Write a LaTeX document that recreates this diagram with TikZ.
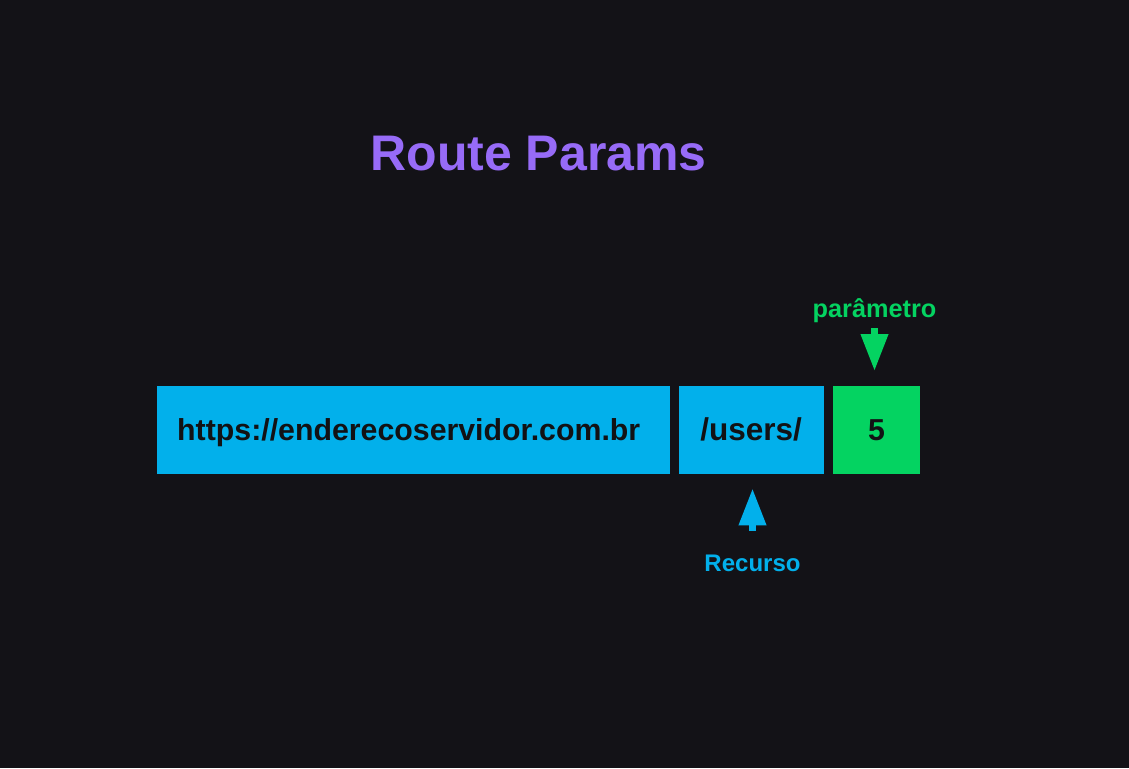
\documentclass[tikz,border=0pt]{standalone}
\usepackage{fontspec}
\setmainfont{Liberation Sans}
\usetikzlibrary{positioning, arrows.meta}
\definecolor{fundo}{RGB}{19,18,23}
\definecolor{azul}{RGB}{2,176,235}
\definecolor{verde}{RGB}{4,211,97}
\definecolor{roxo}{RGB}{151,107,247}
\definecolor{escuro}{RGB}{18,18,20}

\begin{document}
\begin{tikzpicture}[x=1pt, y=-1pt,
    trecho/.style={fill=#1, minimum height=88pt, inner sep=0pt, text height=22pt, text depth=2pt, text=escuro, font=\bfseries\fontsize{30.3}{30}\selectfont},
    rotulo/.style={text=#1, inner sep=0pt, font=\bfseries\fontsize{24}{24}\selectfont},
    seta/.style={draw=#1, line width=7pt, -{Triangle[width=26pt, length=37pt]}}]
    \fill[fundo] (0,0) rectangle (1129,768);
    % Title
    \node (titulo) [anchor=base, text=roxo, font=\bfseries\fontsize{50}{50}\selectfont] at (538.5,170) {Route Params};
    % URL pieces
    \node (url) [trecho=azul, inner xsep=20pt, text width=473pt, align=left, anchor=north west] at (157,386) {https://enderecoservidor.com.br};
    \node (users) [trecho=azul, minimum width=145pt, font=\bfseries\fontsize{31.5}{30}\selectfont, right=8pt of url] {/users/};
    \node (cinco) [trecho=verde, minimum width=87pt, right=9pt of users] {5};
    % Labels
    \node (param) [rotulo=verde, font=\bfseries\fontsize{25.3}{24}\selectfont, anchor=base] at (874.5,317) {parâmetro};
    \node (recurso) [rotulo=azul, anchor=base] at (752.5,571) {Recurso};
    % Pointers
    \draw [seta=verde, shorten <=6pt, shorten >=15pt] (param.south) -- (param.south |- cinco.north);
    \draw [seta=azul, shorten <=23.5pt, shorten >=14pt] (recurso.north) -- (recurso.north |- users.south);
\end{tikzpicture}
\end{document}
